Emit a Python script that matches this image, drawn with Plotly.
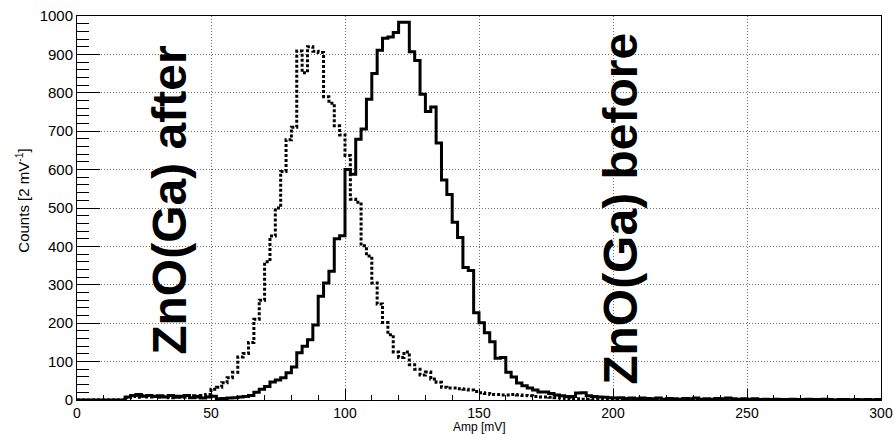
import plotly.graph_objects as go

# bin edges: 2 mV bins from 0 to 300
bin_width = 2
n_bins = 150
edges = [i * bin_width for i in range(n_bins + 1)]

# ZnO(Ga) before (solid) counts per 2 mV bin
before = [
    0, 0, 0, 0, 0, 0, 0, 0, 0, 8,          # 0-20
    12, 14, 10, 12, 9, 11, 8, 12, 7, 10,   # 20-40
    12, 6, 9, 5, 8, 10, 3, 4, 5, 6,        # 40-60
    8, 9, 12, 20, 28, 35, 47, 52, 58, 71,  # 60-80
    86, 123, 140, 157, 195, 270, 305, 335, 420, 428,  # 80-100
    600, 588, 679, 706, 783, 850, 911, 942, 945, 957,  # 100-120
    984, 984, 907, 884, 796, 751, 763, 669, 573, 535,  # 120-140
    463, 423, 345, 337, 227, 201, 175, 152, 109, 111,  # 140-160
    72, 60, 44, 37, 31, 26, 21, 21, 17, 13,            # 160-180
    11, 9, 9, 18, 19, 11, 9, 8, 7, 6,                  # 180-200
    5, 6, 4, 5, 3, 5, 4, 3, 5, 2,                      # 200-220
    4, 3, 2, 4, 3, 5, 2, 3, 2, 4,                      # 220-240
    3, 5, 3, 2, 3, 2, 3, 1, 2, 1,                      # 240-260
    2, 1, 1, 2, 1, 1, 2, 1, 1, 2,                      # 260-280
    1, 0, 1, 1, 0, 1, 0, 1, 0, 1,                      # 280-300
]

# ZnO(Ga) after (dotted) counts per 2 mV bin
after = [
    0, 0, 0, 0, 0, 0, 0, 0, 0, 6,          # 0-20
    9, 7, 11, 8, 10, 7, 9, 6, 10, 8,       # 20-40
    7, 11, 8, 12, 14, 28, 33, 45, 58, 72,  # 40-60
    112, 121, 150, 210, 260, 360, 427, 500, 595, 678,  # 60-80
    710, 909, 852, 920, 908, 905, 790, 773, 714, 690,  # 80-100
    637, 523, 515, 402, 375, 305, 250, 202, 170, 125,  # 100-120
    111, 125, 92, 80, 65, 73, 55, 46, 33, 31,          # 120-140
    31, 29, 28, 26, 22, 19, 17, 14, 14, 13,            # 140-160
    13, 14, 13, 12, 11, 9, 8, 8, 7, 6,                 # 160-180
    5, 4, 3, 3, 2, 2, 1, 1, 0, 0,                      # 180-200
    0, 0, 0, 0, 0, 0, 0, 0, 0, 0,
    0, 0, 0, 0, 0, 0, 0, 0, 0, 0,
    0, 0, 0, 0, 0, 0, 0, 0, 0, 0,
    0, 0, 0, 0, 0, 0, 0, 0, 0, 0,
    0, 0, 0, 0, 0, 0, 0, 0, 0, 0,
]

x_ticks = [0, 50, 100, 150, 200, 250, 300]
y_ticks = [0, 100, 200, 300, 400, 500, 600, 700, 800, 900, 1000]

label_after = "ZnO(Ga) after"
label_before = "ZnO(Ga) before"
x_title = "Amp [mV]"
y_title = "Counts [2 mV<sup>-1</sup>]"

FONT = "Liberation Sans, Arial, Helvetica, sans-serif"


def step(values):
    xs = edges[:]
    ys = list(values) + [values[-1]]
    return xs, ys


fig = go.Figure()
xa, ya = step(after)
fig.add_trace(go.Scatter(x=xa, y=ya, mode="lines", line_shape="hv",
                         line=dict(color="black", width=3, dash="3px,2px"),
                         name=label_after, showlegend=False))
xb, yb = step(before)
fig.add_trace(go.Scatter(x=xb, y=yb, mode="lines", line_shape="hv",
                         line=dict(color="black", width=3),
                         name=label_before, showlegend=False))

fig.add_annotation(x=34.5, y=520, xref="x", yref="y", text=f"<b>{label_after}</b>",
                   textangle=-90, showarrow=False,
                   xanchor="center", yanchor="middle",
                   font=dict(family=FONT, size=48, color="black"))
fig.add_annotation(x=202.5, y=497, xref="x", yref="y", text=f"<b>{label_before}</b>",
                   textangle=-90, showarrow=False,
                   xanchor="center", yanchor="middle",
                   font=dict(family=FONT, size=48, color="black"))
fig.add_annotation(x=-0.068, y=0.52, xref="paper", yref="paper", text=y_title,
                   textangle=-90, showarrow=False,
                   xanchor="center", yanchor="middle",
                   font=dict(family=FONT, size=15, color="black"))
fig.add_annotation(x=0.501, y=-0.0703, xref="paper", yref="paper", text=x_title,
                   showarrow=False, xanchor="center", yanchor="middle",
                   font=dict(family=FONT, size=12, color="black"))

fig.update_xaxes(range=[0, 300], tickvals=x_ticks, ticktext=[str(v) for v in x_ticks],
                 automargin=False,
                 ticks="inside", ticklen=11, tickwidth=1, tickcolor="black",
                 showline=True, linecolor="black", linewidth=1, mirror=True,
                 showgrid=True, gridcolor="#707070", griddash="1px,2px", gridwidth=1,
                 zeroline=False, tickfont=dict(family=FONT, size=14, color="black"),
                 minor=dict(ticks="inside", ticklen=5, dtick=10, tick0=0,
                            tickcolor="black", tickwidth=1, showgrid=False))
fig.update_yaxes(range=[0, 1000], tickvals=y_ticks, ticktext=[str(v) for v in y_ticks],
                 automargin=False,
                 ticks="inside", ticklen=23, tickwidth=1, tickcolor="black",
                 showline=True, linecolor="black", linewidth=1, mirror=True,
                 showgrid=True, gridcolor="#707070", griddash="1px,2px", gridwidth=1,
                 zeroline=False, tickfont=dict(family=FONT, size=15, color="black"),
                 minor=dict(ticks="inside", ticklen=12, dtick=20, tick0=0,
                            tickcolor="black", tickwidth=1, showgrid=False))

fig.update_layout(width=894, height=434, margin=dict(l=77, r=13, t=16, b=34),
                  plot_bgcolor="white", paper_bgcolor="white", showlegend=False)

fig.write_html("out.html")
